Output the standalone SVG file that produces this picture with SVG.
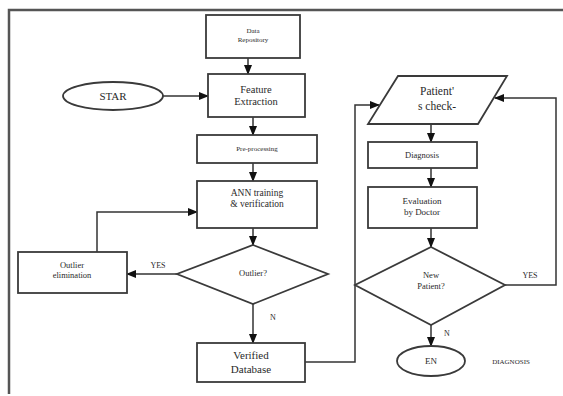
<svg xmlns="http://www.w3.org/2000/svg" width="563" height="396" viewBox="0 0 563 396">
<defs>
<marker id="ah" markerWidth="10" markerHeight="8" refX="9" refY="4" orient="auto" markerUnits="userSpaceOnUse">
<path d="M0,0 L10,4 L0,8 Z" fill="#111"/>
</marker>
<style>
.box{fill:#fff;stroke:#3a3a3a;stroke-width:1.8}
.ln{fill:none;stroke:#333;stroke-width:1.5}
text{font-family:"Liberation Serif","Times New Roman",serif;fill:#2a2a2a;text-anchor:middle}
</style>
</defs>
<rect width="563" height="396" fill="#fff"/>
<g id="frame">
<path d="M9,394 L9,10 L563,10" fill="none" stroke="#555" stroke-width="2.5"/>
</g>
<g id="connectors">
<line class="ln" x1="248" y1="58" x2="248" y2="74" marker-end="url(#ah)"/>
<line class="ln" x1="163" y1="96" x2="208" y2="96" marker-end="url(#ah)"/>
<line class="ln" x1="253" y1="117" x2="253" y2="135" marker-end="url(#ah)"/>
<line class="ln" x1="253" y1="163" x2="253" y2="181" marker-end="url(#ah)"/>
<line class="ln" x1="253" y1="228" x2="253" y2="245" marker-end="url(#ah)"/>
<line class="ln" x1="177" y1="274" x2="127" y2="274" marker-end="url(#ah)"/>
<path class="ln" d="M97,252 L97,212 L197,212" marker-end="url(#ah)"/>
<line class="ln" x1="253" y1="304" x2="253" y2="343" marker-end="url(#ah)"/>
<path class="ln" d="M305,362 L355,362 L355,105 L379,105" marker-end="url(#ah)"/>
<line class="ln" x1="431" y1="124" x2="431" y2="142" marker-end="url(#ah)"/>
<line class="ln" x1="431" y1="168" x2="431" y2="187" marker-end="url(#ah)"/>
<line class="ln" x1="431" y1="228" x2="431" y2="247" marker-end="url(#ah)"/>
<path class="ln" d="M505,285 L556,285 L556,98 L495,98" marker-end="url(#ah)"/>
<line class="ln" x1="431" y1="325" x2="431" y2="346" marker-end="url(#ah)"/>
<text x="158" y="268" font-size="8">YES</text>
<text x="273" y="320" font-size="8">N</text>
<text x="530" y="278" font-size="8">YES</text>
<text x="447" y="336" font-size="8">N</text>
</g>
<g id="data-repository">
<rect class="box" x="206" y="15" width="94" height="43"/>
<text x="253" y="33" font-size="7">Data</text>
<text x="253" y="42" font-size="7">Repository</text>
</g>
<g id="star">
<ellipse class="box" cx="113" cy="96" rx="50" ry="14"/>
<text x="113" y="100" font-size="11">STAR</text>
</g>
<g id="feature-extraction">
<rect class="box" x="208" y="74" width="97" height="43"/>
<text x="256" y="93" font-size="10.5">Feature</text>
<text x="256" y="105" font-size="10.5">Extraction</text>
</g>
<g id="pre-processing">
<rect class="box" x="197" y="135" width="120" height="28"/>
<text x="257" y="151" font-size="7">Pre-processing</text>
</g>
<g id="ann-training">
<rect class="box" x="197" y="181" width="120" height="47"/>
<text x="257" y="196" font-size="9.5">ANN training</text>
<text x="257" y="207" font-size="9.5">&amp; verification</text>
</g>
<g id="outlier">
<polygon class="box" points="253,245 328,274 253,304 177,274"/>
<text x="253" y="276" font-size="8.5">Outlier?</text>
</g>
<g id="outlier-elimination">
<rect class="box" x="18" y="252" width="109" height="41"/>
<text x="72" y="268" font-size="8.5">Outlier</text>
<text x="72" y="278" font-size="8.5">elimination</text>
</g>
<g id="verified-database">
<rect class="box" x="197" y="343" width="108" height="39"/>
<text x="251" y="359" font-size="11">Verified</text>
<text x="251" y="373" font-size="11">Database</text>
</g>
<g id="patients-check">
<polygon class="box" points="398,76 507,76 478,124 368,124"/>
<text x="437" y="95" font-size="11.5">Patient'</text>
<text x="437" y="110" font-size="11.5">s check-</text>
</g>
<g id="diagnosis">
<rect class="box" x="368" y="142" width="109" height="26"/>
<text x="422" y="158" font-size="8.5">Diagnosis</text>
</g>
<g id="evaluation">
<rect class="box" x="368" y="187" width="109" height="41"/>
<text x="422" y="204" font-size="9">Evaluation</text>
<text x="422" y="215" font-size="9">by Doctor</text>
</g>
<g id="new-patient">
<polygon class="box" points="431,247 505,285 431,325 355,285"/>
<text x="431" y="278" font-size="8.5">New</text>
<text x="431" y="289" font-size="8.5">Patient?</text>
</g>
<g id="end">
<ellipse class="box" cx="431" cy="361" rx="34" ry="15"/>
<text x="431" y="364" font-size="9">EN</text>
</g>
<g id="diagnosis-label">
<text x="511" y="364" font-size="7">DIAGNOSIS</text>
</g>
</svg>
